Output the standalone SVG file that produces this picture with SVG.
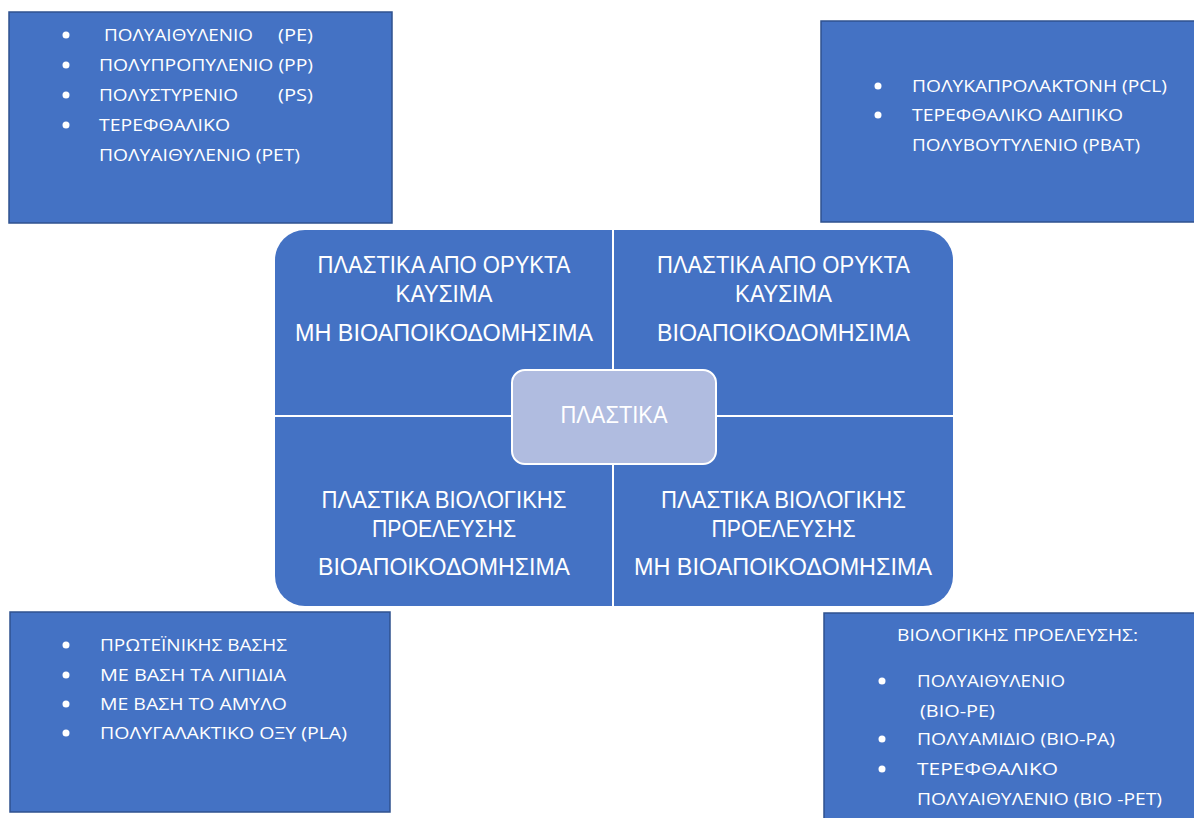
<svg xmlns="http://www.w3.org/2000/svg" width="1194" height="818" viewBox="0 0 1194 818">
<style>
.box{fill:#4472C4;stroke:#2F528F;stroke-width:1.5}
.t{font-family:"Open Sans","Liberation Sans",sans-serif;font-size:16.5px;fill:#FFFFFF}
.q{font-family:"Liberation Sans","DejaVu Sans",sans-serif;font-size:23px;fill:#FFFFFF;text-anchor:middle}
.b{fill:#FFFFFF}
.div{stroke:#FFFFFF;stroke-width:2;fill:none}
</style>
<rect width="1194" height="818" fill="#FFFFFF"/>
<g id="box-top-left">
<rect class="box" x="9" y="12" width="383" height="211"/>
<circle class="b" cx="66" cy="35" r="3.5"/>
<circle class="b" cx="66" cy="65" r="3.5"/>
<circle class="b" cx="66" cy="95" r="3.5"/>
<circle class="b" cx="66" cy="125" r="3.5"/>
<text class="t" x="104" y="41" textLength="149" lengthAdjust="spacingAndGlyphs">ΠΟΛΥΑΙΘΥΛΕΝΙΟ</text>
<text class="t" x="278" y="41" textLength="35" lengthAdjust="spacingAndGlyphs">(PE)</text>
<text class="t" x="99" y="71" textLength="214" lengthAdjust="spacingAndGlyphs">ΠΟΛΥΠΡΟΠΥΛΕΝΙΟ (PP)</text>
<text class="t" x="99" y="101" textLength="139" lengthAdjust="spacingAndGlyphs">ΠΟΛΥΣΤΥΡΕΝΙΟ</text>
<text class="t" x="278" y="101" textLength="35" lengthAdjust="spacingAndGlyphs">(PS)</text>
<text class="t" x="99" y="131" textLength="131" lengthAdjust="spacingAndGlyphs">ΤΕΡΕΦΘΑΛΙΚΟ</text>
<text class="t" x="99" y="161" textLength="201" lengthAdjust="spacingAndGlyphs">ΠΟΛΥΑΙΘΥΛΕΝΙΟ (PET)</text>
</g>
<g id="box-top-right">
<rect class="box" x="821" y="21" width="380" height="201"/>
<circle class="b" cx="878" cy="86" r="3.5"/>
<circle class="b" cx="878" cy="115" r="3.5"/>
<text class="t" x="912" y="92" textLength="255" lengthAdjust="spacingAndGlyphs">ΠΟΛΥΚΑΠΡΟΛΑΚΤΟΝΗ (PCL)</text>
<text class="t" x="912" y="121" textLength="211" lengthAdjust="spacingAndGlyphs">ΤΕΡΕΦΘΑΛΙΚΟ ΑΔΙΠΙΚΟ</text>
<text class="t" x="912" y="151" textLength="228" lengthAdjust="spacingAndGlyphs">ΠΟΛΥΒΟΥΤΥΛΕΝΙΟ (PBAT)</text>
</g>
<g id="box-bottom-left">
<rect class="box" x="10" y="612" width="380" height="200"/>
<circle class="b" cx="66" cy="645" r="3.5"/>
<circle class="b" cx="66" cy="675" r="3.5"/>
<circle class="b" cx="66" cy="704" r="3.5"/>
<circle class="b" cx="66" cy="733" r="3.5"/>
<text class="t" x="100" y="651" textLength="187" lengthAdjust="spacingAndGlyphs">ΠΡΩΤΕΪΝΙΚΗΣ ΒΑΣΗΣ</text>
<text class="t" x="100" y="681" textLength="186" lengthAdjust="spacingAndGlyphs">ΜΕ ΒΑΣΗ ΤΑ ΛΙΠΙΔΙΑ</text>
<text class="t" x="100" y="710" textLength="187" lengthAdjust="spacingAndGlyphs">ΜΕ ΒΑΣΗ ΤΟ ΑΜΥΛΟ</text>
<text class="t" x="100" y="739" textLength="247" lengthAdjust="spacingAndGlyphs">ΠΟΛΥΓΑΛΑΚΤΙΚΟ ΟΞΥ (PLA)</text>
</g>
<g id="box-bottom-right">
<rect class="box" x="824" y="613" width="380" height="215"/>
<text class="t" x="897" y="641" textLength="241" lengthAdjust="spacingAndGlyphs">ΒΙΟΛΟΓΙΚΗΣ ΠΡΟΕΛΕΥΣΗΣ:</text>
<circle class="b" cx="882" cy="681" r="3.5"/>
<circle class="b" cx="882" cy="739" r="3.5"/>
<circle class="b" cx="882" cy="769" r="3.5"/>
<text class="t" x="917" y="687" textLength="148" lengthAdjust="spacingAndGlyphs">ΠΟΛΥΑΙΘΥΛΕΝΙΟ</text>
<text class="t" x="920" y="717" textLength="75" lengthAdjust="spacingAndGlyphs">(ΒΙΟ-PE)</text>
<text class="t" x="917" y="745" textLength="198" lengthAdjust="spacingAndGlyphs">ΠΟΛΥΑΜΙΔΙΟ (ΒΙΟ-PA)</text>
<text class="t" x="917" y="775" textLength="141" lengthAdjust="spacingAndGlyphs">ΤΕΡΕΦΘΑΛΙΚΟ</text>
<text class="t" x="917" y="805" textLength="245" lengthAdjust="spacingAndGlyphs">ΠΟΛΥΑΙΘΥΛΕΝΙΟ (ΒΙΟ -PET)</text>
</g>
<g id="matrix">
<rect x="275" y="230" width="678" height="376" rx="30" ry="30" fill="#4472C4"/>
</g>
<g id="connectors">
<line class="div" x1="613" y1="230" x2="613" y2="606"/>
<line class="div" x1="275" y1="416" x2="953" y2="416"/>
</g>
<g id="quadrant-top-left">
<text class="q" x="444" y="273" textLength="253" lengthAdjust="spacingAndGlyphs">ΠΛΑΣΤΙΚΑ ΑΠΟ ΟΡΥΚΤΑ</text>
<text class="q" x="444" y="302" textLength="97" lengthAdjust="spacingAndGlyphs">ΚΑΥΣΙΜΑ</text>
<text class="q" x="444" y="341" textLength="298" lengthAdjust="spacingAndGlyphs">ΜΗ ΒΙΟΑΠΟΙΚΟΔΟΜΗΣΙΜΑ</text>
</g>
<g id="quadrant-top-right">
<text class="q" x="783.5" y="273" textLength="253" lengthAdjust="spacingAndGlyphs">ΠΛΑΣΤΙΚΑ ΑΠΟ ΟΡΥΚΤΑ</text>
<text class="q" x="783.5" y="302" textLength="97" lengthAdjust="spacingAndGlyphs">ΚΑΥΣΙΜΑ</text>
<text class="q" x="783.5" y="341" textLength="253" lengthAdjust="spacingAndGlyphs">ΒΙΟΑΠΟΙΚΟΔΟΜΗΣΙΜΑ</text>
</g>
<g id="quadrant-bottom-left">
<text class="q" x="444" y="508" textLength="245" lengthAdjust="spacingAndGlyphs">ΠΛΑΣΤΙΚΑ ΒΙΟΛΟΓΙΚΗΣ</text>
<text class="q" x="444" y="537" textLength="144" lengthAdjust="spacingAndGlyphs">ΠΡΟΕΛΕΥΣΗΣ</text>
<text class="q" x="444" y="575" textLength="252" lengthAdjust="spacingAndGlyphs">ΒΙΟΑΠΟΙΚΟΔΟΜΗΣΙΜΑ</text>
</g>
<g id="quadrant-bottom-right">
<text class="q" x="783.5" y="508" textLength="245" lengthAdjust="spacingAndGlyphs">ΠΛΑΣΤΙΚΑ ΒΙΟΛΟΓΙΚΗΣ</text>
<text class="q" x="783.5" y="537" textLength="144" lengthAdjust="spacingAndGlyphs">ΠΡΟΕΛΕΥΣΗΣ</text>
<text class="q" x="783" y="575" textLength="298" lengthAdjust="spacingAndGlyphs">ΜΗ ΒΙΟΑΠΟΙΚΟΔΟΜΗΣΙΜΑ</text>
</g>
<g id="center">
<rect x="512" y="370" width="204" height="94" rx="13" ry="13" fill="#B0BCE0" stroke="#FFFFFF" stroke-width="2"/>
<text class="q" x="614" y="423" font-size="20" textLength="107" lengthAdjust="spacingAndGlyphs">ΠΛΑΣΤΙΚΑ</text>
</g>
</svg>
